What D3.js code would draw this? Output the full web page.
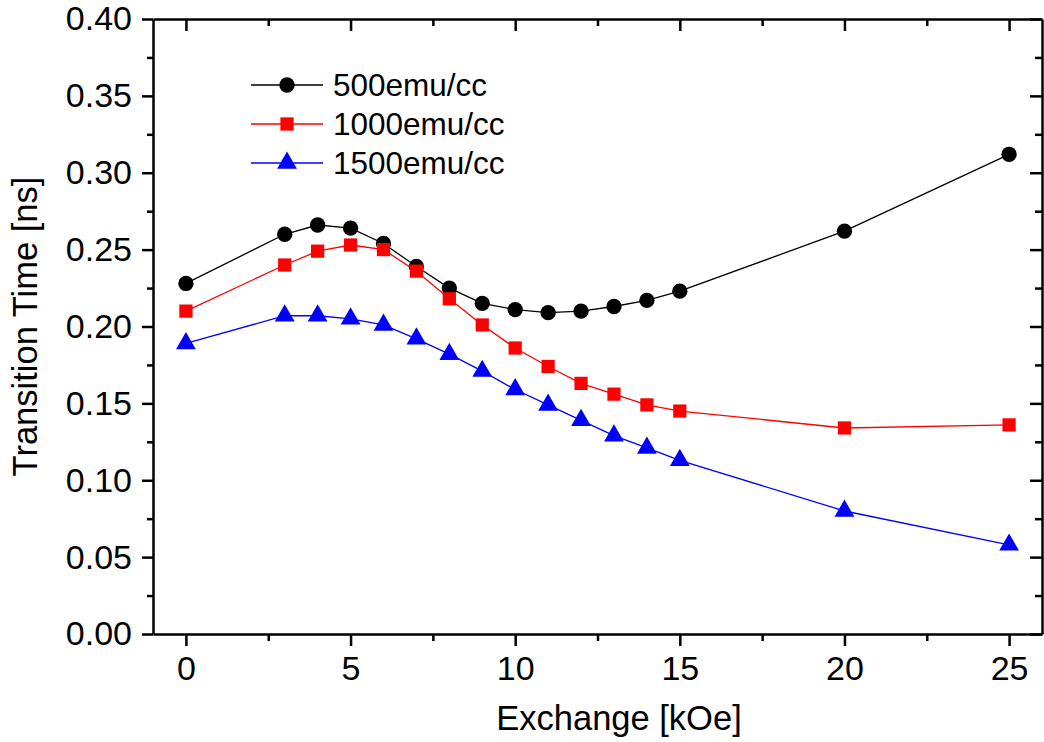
<!DOCTYPE html>
<html>
<head>
<meta charset="utf-8">
<script src="https://cdn.jsdelivr.net/npm/d3@7"></script>
<style>
  body { margin: 0; background: #fff; }
  svg { display: block; font-family: "Liberation Sans", Arial, sans-serif; }
</style>
</head>
<body>
<svg id="chart" width="1044" height="742"></svg>
<script>
const exchange = [0, 3, 4, 5, 6, 7, 8, 9, 10, 11, 12, 13, 14, 15, 20, 25];
const ms500 = [0.228, 0.260, 0.266, 0.264, 0.254, 0.239, 0.225, 0.215, 0.211, 0.209, 0.210, 0.213, 0.217, 0.223, 0.262, 0.312];
const ms1000 = [0.210, 0.240, 0.249, 0.253, 0.250, 0.236, 0.218, 0.201, 0.186, 0.174, 0.163, 0.156, 0.149, 0.145, 0.134, 0.136];
const ms1500 = [0.189, 0.207, 0.207, 0.205, 0.201, 0.192, 0.182, 0.171, 0.159, 0.149, 0.139, 0.129, 0.121, 0.113, 0.080, 0.058];
const seriesNames = ["500emu/cc", "1000emu/cc", "1500emu/cc"];
const xTicks = [0, 5, 10, 15, 20, 25];
const yTicks = [0, 0.05, 0.10, 0.15, 0.20, 0.25, 0.30, 0.35, 0.40];

(function () {
  const svg = d3.select("#chart");
  const width = 1044, height = 742;
  const margin = { left: 153, right: 2, top: 19, bottom: 108 };

  const x = d3.scaleLinear().domain([-1, 26]).range([margin.left, width - margin.right]);
  const y = d3.scaleLinear().domain([0, 0.40]).range([height - margin.bottom, margin.top]);

  const series = [
    { name: seriesNames[0], values: ms500, color: "#000000", symbol: d3.symbolCircle, size: 185 },
    { name: seriesNames[1], values: ms1000, color: "#ff0000", symbol: d3.symbolSquare, size: 175 },
    { name: seriesNames[2], values: ms1500, color: "#0000ff", symbol: d3.symbolTriangle, size: 170 }
  ];

  const tickFont = 34;
  const titleFont = 34.5;
  const legendFont = 31.5;
  const xMinor = [2.5, 7.5, 12.5, 17.5, 22.5];
  const yMinor = d3.range(0.025, 0.4, 0.05);

  function styleAxis(g, keepDomain) {
    if (keepDomain) g.select(".domain").attr("stroke", "#000").attr("stroke-width", 2.5);
    else g.select(".domain").remove();
    g.selectAll(".tick line").attr("stroke", "#000").attr("stroke-width", 2.5);
    g.selectAll(".tick text").attr("font-size", tickFont).attr("fill", "#000");
  }

  // bottom
  svg.append("g").attr("transform", `translate(0,${y(0)})`)
    .call(d3.axisBottom(x).tickValues(xTicks).tickSize(12).tickSizeOuter(0).tickPadding(10).tickFormat(d3.format("d")))
    .call(g => styleAxis(g, true));
  svg.append("g").attr("transform", `translate(0,${y(0)})`)
    .call(d3.axisBottom(x).tickValues(xMinor).tickSize(7).tickFormat(""))
    .call(g => styleAxis(g, false));

  // top (ticks inward)
  svg.append("g").attr("transform", `translate(0,${y(0.40)})`)
    .call(d3.axisTop(x).tickValues(xTicks).tickSize(-12).tickSizeOuter(0).tickFormat(""))
    .call(g => styleAxis(g, true));
  svg.append("g").attr("transform", `translate(0,${y(0.40)})`)
    .call(d3.axisTop(x).tickValues(xMinor).tickSize(-7).tickFormat(""))
    .call(g => styleAxis(g, false));

  // left
  svg.append("g").attr("transform", `translate(${x(-1)},0)`)
    .call(d3.axisLeft(y).tickValues(yTicks).tickSize(11).tickSizeOuter(0).tickPadding(10).tickFormat(d3.format(".2f")))
    .call(g => styleAxis(g, true));
  svg.append("g").attr("transform", `translate(${x(-1)},0)`)
    .call(d3.axisLeft(y).tickValues(yMinor).tickSize(6).tickFormat(""))
    .call(g => styleAxis(g, false));

  // right (ticks inward)
  svg.append("g").attr("transform", `translate(${x(26)},0)`)
    .call(d3.axisRight(y).tickValues(yTicks).tickSize(-12).tickSizeOuter(0).tickFormat(""))
    .call(g => styleAxis(g, true));
  svg.append("g").attr("transform", `translate(${x(26)},0)`)
    .call(d3.axisRight(y).tickValues(yMinor).tickSize(-7).tickFormat(""))
    .call(g => styleAxis(g, false));

  // axis titles
  svg.append("text")
    .attr("x", 619).attr("y", 730)
    .attr("text-anchor", "middle")
    .attr("font-size", titleFont)
    .text("Exchange [kOe]");

  svg.append("text")
    .attr("transform", `translate(37,${(y(0) + y(0.40)) / 2}) rotate(-90)`)
    .attr("text-anchor", "middle")
    .attr("font-size", titleFont)
    .text("Transition Time [ns]");

  // data
  const line = d3.line().x((d, i) => x(exchange[i])).y(d => y(d));
  series.forEach(s => {
    svg.append("path")
      .attr("d", line(s.values))
      .attr("fill", "none")
      .attr("stroke", s.color)
      .attr("stroke-width", 1.3);
    svg.append("g").selectAll("path")
      .data(s.values)
      .join("path")
      .attr("transform", (d, i) => `translate(${x(exchange[i])},${y(d)})`)
      .attr("d", d3.symbol().type(s.symbol).size(s.size))
      .attr("fill", s.color);
  });

  // legend
  const legend = svg.append("g");
  series.forEach((s, i) => {
    const ly = 85 + i * 39;
    legend.append("line")
      .attr("x1", 251).attr("x2", 323).attr("y1", ly).attr("y2", ly)
      .attr("stroke", s.color).attr("stroke-width", 1.3);
    legend.append("path")
      .attr("transform", `translate(287,${ly})`)
      .attr("d", d3.symbol().type(s.symbol).size(s.size))
      .attr("fill", s.color);
    legend.append("text")
      .attr("x", 333).attr("y", ly + 11)
      .attr("font-size", legendFont)
      .text(s.name);
  });
})();
</script>
</body>
</html>
